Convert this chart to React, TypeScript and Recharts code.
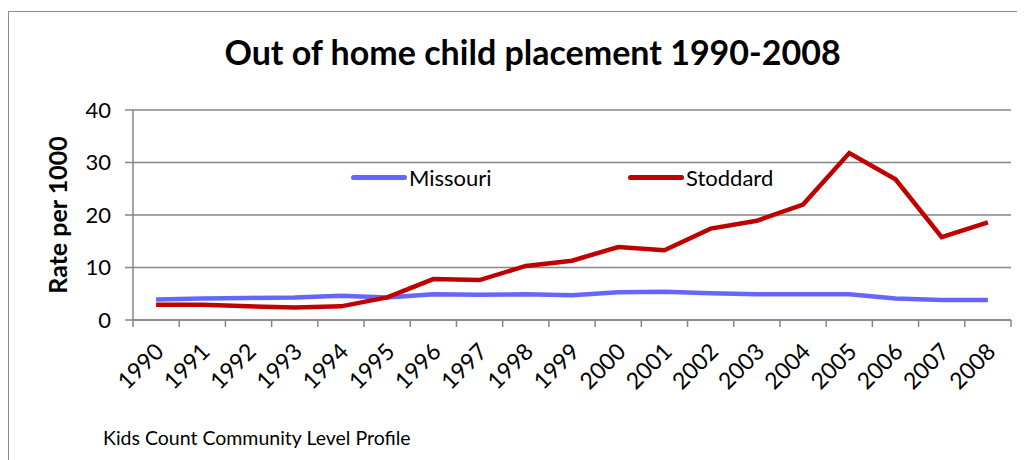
import React from 'react';
import { LineChart, Line, XAxis, YAxis, CartesianGrid, Legend } from 'recharts';

const years = ['1990','1991','1992','1993','1994','1995','1996','1997','1998','1999','2000','2001','2002','2003','2004','2005','2006','2007','2008'];
const missouri = [3.9, 4.1, 4.2, 4.3, 4.6, 4.3, 4.9, 4.8, 4.9, 4.7, 5.3, 5.4, 5.1, 4.9, 4.9, 4.9, 4.1, 3.8, 3.8];
const stoddard = [2.9, 2.9, 2.6, 2.4, 2.6, 4.3, 7.8, 7.6, 10.3, 11.3, 13.9, 13.3, 17.4, 18.9, 22.0, 31.8, 26.8, 15.8, 18.6];
const yTicks = [0, 10, 20, 30, 40];

const data = years.map((y, i) => ({ year: y, Missouri: missouri[i], Stoddard: stoddard[i] }));

const FONT = 'Lato, "Open Sans", sans-serif';
const W = 1017;
const H = 452;
const M = { top: 102, right: 14, left: 0, bottom: 0 };
const Y_W = 125;
const X_H = H - M.top - 210;
const PLOT_W = W - M.right - Y_W;
const STEP = PLOT_W / years.length;

const XTick = (props: any) => {
  const { x, y, payload, index } = props;
  const lx = x - STEP / 2;
  const last = index === years.length - 1;
  const tx = x + 9;
  const ty = y + 33;
  return (
    <g>
      <line x1={lx} y1={y} x2={lx} y2={y + 7} stroke="#868686" strokeWidth={1.5} />
      {last && <line x1={x + STEP / 2} y1={y} x2={x + STEP / 2} y2={y + 7} stroke="#868686" strokeWidth={1.5} />}
      <text
        x={tx}
        y={ty}
        transform={`rotate(-45 ${tx} ${ty})`}
        textAnchor="end"
        fontSize={23}
        fontFamily={FONT}
        fill="#000"
      >
        {payload.value}
      </text>
    </g>
  );
};

const LegendContent = (props: any) => {
  const { payload } = props;
  return (
    <div style={{ display: 'flex', fontFamily: FONT, fontSize: 22 }}>
      {payload.map((p: any) => (
        <div key={p.value} style={{ display: 'flex', alignItems: 'center', width: 277 }}>
          <div style={{ width: 56, height: 5, background: p.color, borderRadius: 3 }} />
          <span style={{ marginLeft: 2, color: '#000' }}>{p.value}</span>
        </div>
      ))}
    </div>
  );
};

export default function App() {
  return (
    <div style={{ position: 'relative', width: W, height: H, fontFamily: FONT }}>
      <div
        style={{
          position: 'absolute',
          left: 0,
          top: 3,
          width: W,
          height: H - 3,
          boxSizing: 'border-box',
          borderTop: '1.5px solid #8c8c8c',
          borderLeft: '1.5px solid #8c8c8c',
        }}
      />
      <div
        style={{
          position: 'absolute',
          left: 16,
          top: 23,
          width: W,
          textAlign: 'center',
          fontWeight: 700,
          fontSize: 34,
          color: '#000',
        }}
      >
        Out of home child placement 1990-2008
      </div>
      <div style={{ position: 'absolute', left: 0, top: 0 }}>
        <LineChart width={W} height={H} data={data} margin={M}>
          <CartesianGrid vertical={false} stroke="#868686" strokeWidth={1.5} />
          <XAxis
            dataKey="year"
            height={X_H}
            interval={0}
            padding={{ left: STEP / 2, right: STEP / 2 }}
            tickLine={false}
            tickSize={0}
            tickMargin={0}
            stroke="#868686"
            strokeWidth={1.5}
            tick={<XTick />}
          />
          <YAxis
            width={Y_W}
            domain={[0, 40]}
            ticks={yTicks}
            interval={0}
            tickSize={8}
            tickMargin={14}
            stroke="#868686"
            strokeWidth={1.5}
            tick={{ fontSize: 22, fontFamily: FONT, fill: '#000' }}
            label={{
              content: (p: any) => {
                const vb = p.viewBox;
                const cx = vb.x + 59;
                const cy = vb.y + vb.height / 2;
                return (
                  <text
                    x={cx}
                    y={cy}
                    transform={`rotate(-90 ${cx} ${cy})`}
                    textAnchor="middle"
                    fontSize={25}
                    fontWeight={700}
                    fontFamily={FONT}
                    fill="#000"
                  >
                    Rate per 1000
                  </text>
                );
              },
            }}
          />
          <Legend
            layout="horizontal"
            verticalAlign="middle"
            align="center"
            content={<LegendContent />}
            wrapperStyle={{ position: 'absolute', left: 343, top: 156, width: 600, height: 30 }}
          />
          <Line
            type="linear"
            dataKey="Missouri"
            stroke="#6666FF"
            strokeWidth={4.5}
            dot={false}
            isAnimationActive={false}
          />
          <Line
            type="linear"
            dataKey="Stoddard"
            stroke="#C00000"
            strokeWidth={4.5}
            dot={false}
            isAnimationActive={false}
          />
        </LineChart>
      </div>
      <div
        style={{
          position: 'absolute',
          left: 95,
          top: 418,
          fontSize: 19.5,
          color: '#000',
        }}
      >
        Kids Count Community Level Profile
      </div>
    </div>
  );
}
